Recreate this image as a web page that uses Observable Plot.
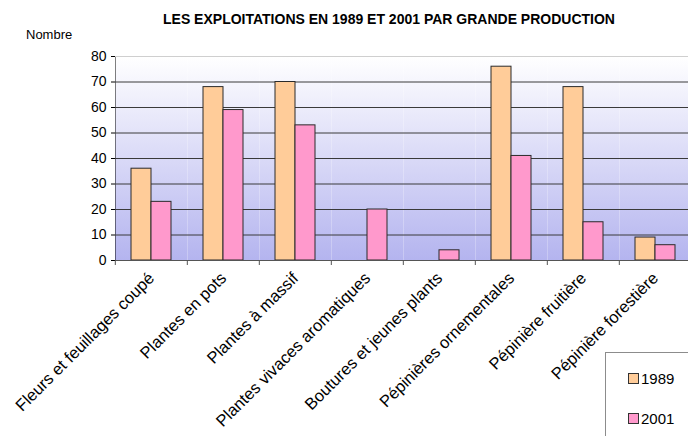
<!DOCTYPE html>
<html>
<head>
<meta charset="utf-8">
<script src="https://cdn.jsdelivr.net/npm/d3@7"></script>
<script src="https://cdn.jsdelivr.net/npm/@observablehq/plot@0.6"></script>
<style>
  html, body { margin: 0; padding: 0; background: #fff; }
  #wrap { position: relative; width: 688px; height: 436px; overflow: hidden; background: #fff; font-family: "Liberation Sans", Arial, sans-serif; }
  #chart { position: absolute; left: 0; top: 0; }
  #title { position: absolute; left: 163px; top: 12px; font-size: 14px; font-weight: bold; line-height: 1; white-space: nowrap; color: #000; }
  #ylabel { position: absolute; left: 26px; top: 28px; font-size: 13px; line-height: 1; color: #000; }
  #legend { position: absolute; left: 605px; top: 352px; width: 100px; height: 100px; border: 1px solid #8c8c8c; background: #fff; }
  .item { position: absolute; left: 22px; font-size: 15px; line-height: 1; display: flex; align-items: center; white-space: nowrap; }
  .sw { display: inline-block; width: 9px; height: 9px; border: 1px solid #333; margin-right: 2px; }
</style>
</head>
<body>
<div id="wrap">
  <div id="chart"></div>
  <div id="title"></div>
  <div id="ylabel"></div>
  <div id="legend"></div>
</div>
<script>
const title = "LES EXPLOITATIONS EN 1989 ET 2001 PAR GRANDE PRODUCTION";
const yLabel = "Nombre";
const categories = [
  "Fleurs et feuillages coupé",
  "Plantes en pots",
  "Plantes à massif",
  "Plantes vivaces aromatiques",
  "Boutures et jeunes plants",
  "Pépinières ornementales",
  "Pépinière fruitière",
  "Pépinière forestière"
];
const years = ["1989", "2001"];
const values1989 = [36, 68, 70, null, null, 76, 68, 9];
const values2001 = [23, 59, 53, 20, 4, 41, 15, 6];
const yTicks = [0, 10, 20, 30, 40, 50, 60, 70, 80];
const colors = ["#FFCC99", "#FF99CC"];

const data = categories.flatMap((c, i) => [
  {cat: c, year: years[0], value: values1989[i]},
  {cat: c, year: years[1], value: values2001[i]}
]).filter(d => d.value != null);

const W = 692, H = 436, mL = 113, mR = 0, mT = 56, mB = 176;
const step = (W - mL - mR) / categories.length;

const chart = Plot.plot({
  width: W, height: H,
  marginLeft: mL, marginRight: mR, marginTop: mT, marginBottom: mB,
  style: {fontFamily: "'Liberation Sans', Arial, sans-serif", fontSize: "14px", color: "#000", background: "transparent", maxWidth: "none", overflow: "visible"},
  fx: {domain: categories, padding: 0, label: null},
  x: {domain: years, paddingInner: 0, paddingOuter: 0.72, axis: null},
  y: {domain: [0, 80], ticks: yTicks, tickSize: 4, tickPadding: 5, label: null, line: true},
  color: {domain: years, range: colors},
  marks: [
    Plot.frame({fill: "url(#bgGrad)", stroke: null}),
    Plot.ruleY(yTicks.filter(t => t > 0 && t < 80), {stroke: "#3a3a3a", strokeWidth: 1}),
    Plot.ruleY([80], {stroke: "#cfcfcf", strokeWidth: 1}),
    Plot.barY(data, {fx: "cat", x: "year", y: "value", fill: "year", stroke: "#2a2a2a", strokeWidth: 1, inset: 0}),
    Plot.ruleY([0], {stroke: "#555", strokeWidth: 1}),
    Plot.axisFx({anchor: "bottom", tickSize: 5, tickFormat: () => "", label: null, dx: -step / 2, stroke: "#555"}),
    Plot.axisFx({anchor: "bottom", tickSize: 0, tickPadding: 15, tickRotate: -45, label: null, fontSize: 16.5})
  ]
});

d3.select(chart).insert("defs", ":first-child").html(
  '<linearGradient id="bgGrad" x1="0" y1="0" x2="0" y2="1">' +
  '<stop offset="0" stop-color="#ffffff"/>' +
  '<stop offset="1" stop-color="#b4b4ef"/>' +
  '</linearGradient>'
);

document.getElementById("chart").appendChild(chart);
document.getElementById("title").textContent = title;
document.getElementById("ylabel").textContent = yLabel;

const legend = document.getElementById("legend");
years.forEach((y, i) => {
  const item = document.createElement("div");
  item.className = "item";
  item.style.top = (i === 0 ? 18 : 58) + "px";
  const sw = document.createElement("span");
  sw.className = "sw";
  sw.style.background = colors[i];
  item.appendChild(sw);
  item.appendChild(document.createTextNode(y));
  legend.appendChild(item);
});
</script>
</body>
</html>
